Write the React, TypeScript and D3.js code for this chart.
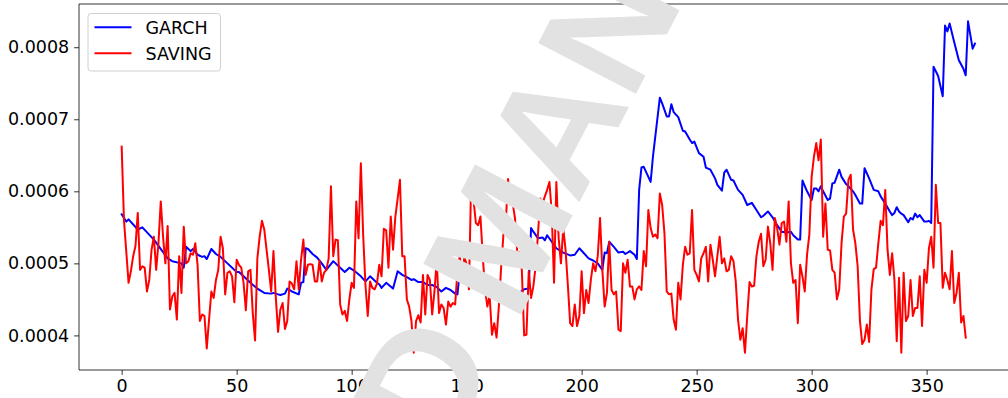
import { useEffect, useRef } from 'react';
import * as d3 from 'd3';

// series values are stored in units of 1e-6
const GARCH_T = [0, 2, 3, 7, 9, 14, 20, 22, 26, 27, 28, 30, 31, 33, 35, 36, 37, 39, 41, 43, 46, 50, 51, 53, 56, 59, 62, 65, 66, 68, 69, 71, 72, 74, 77, 78, 79, 80, 81, 83, 85, 87, 89, 92, 93, 95, 97, 99, 101, 104, 106, 108, 111, 112, 113, 115, 118, 120, 122, 124, 126, 127, 129, 131, 133, 135, 137, 139, 141, 143, 145, 146, 147, 148, 149, 152, 155, 159, 162, 169, 173, 175, 177, 178, 179, 181, 183, 184, 185, 187, 189, 192, 195, 197, 199, 201, 203, 205, 207, 209, 210, 211, 212, 214, 216, 218, 219, 221, 223, 224, 225, 226, 227, 230, 231, 234, 235, 237, 238, 239, 240, 242, 244, 245, 247, 248, 249, 251, 253, 254, 256, 258, 259, 261, 262, 263, 265, 266, 268, 270, 272, 274, 276, 278, 279, 281, 283, 285, 287, 289, 291, 292, 294, 295, 296, 298, 300, 301, 302, 303, 304, 305, 307, 308, 309, 310, 312, 313, 315, 316, 318, 319, 321, 322, 323, 325, 327, 329, 330, 332, 334, 335, 336, 337, 338, 339, 340, 342, 343, 344, 345, 346, 347, 349, 350, 351, 352, 353, 355, 357, 358, 359, 360, 362, 364, 366, 367, 368, 370, 371];
const GARCH_V = [568, 558, 561, 547, 550, 533, 507, 503, 500, 494, 523, 517, 520, 512, 509, 510, 506, 520, 513, 509, 500, 488, 488, 482, 473, 465, 459, 458, 459, 457, 456, 458, 465, 461, 457, 473, 474, 521, 520, 513, 508, 500, 491, 503, 500, 494, 488, 494, 490, 482, 475, 482, 473, 471, 466, 473, 465, 489, 484, 481, 477, 478, 474, 474, 470, 470, 467, 461, 466, 463, 458, 457, 489, 484, 480, 475, 470, 466, 461, 464, 459, 464, 465, 549, 544, 535, 536, 532, 539, 530, 521, 515, 511, 512, 521, 514, 507, 504, 500, 491, 515, 514, 530, 523, 515, 516, 513, 517, 512, 506, 602, 633, 634, 613, 648, 730, 722, 704, 704, 721, 710, 703, 684, 683, 672, 667, 669, 653, 648, 633, 630, 618, 609, 601, 626, 630, 616, 615, 602, 595, 581, 584, 574, 564, 566, 572, 564, 553, 544, 543, 544, 539, 533, 533, 615, 600, 588, 604, 604, 600, 607, 600, 588, 590, 611, 612, 630, 620, 610, 607, 600, 595, 583, 583, 632, 618, 602, 600, 593, 583, 572, 567, 570, 578, 572, 569, 567, 557, 563, 561, 569, 564, 567, 558, 558, 559, 556, 773, 760, 732, 830, 822, 833, 807, 782, 770, 761, 836, 798, 805];

const SAVING_T = [0, 1, 3, 4, 5, 6, 7, 8, 9, 10, 11, 12, 13, 14, 15, 16, 17, 18, 19, 20, 21, 22, 23, 24, 25, 26, 27, 28, 29, 30, 31, 32, 33, 34, 35, 36, 37, 38, 39, 40, 41, 42, 43, 44, 45, 46, 47, 48, 49, 50, 51, 52, 53, 54, 55, 56, 57, 58, 59, 60, 61, 62, 63, 64, 65, 66, 67, 68, 69, 70, 71, 72, 73, 74, 75, 76, 77, 78, 79, 80, 81, 82, 83, 84, 85, 86, 87, 88, 89, 90, 91, 92, 93, 94, 95, 96, 97, 98, 99, 100, 101, 102, 103, 104, 105, 106, 107, 108, 109, 110, 111, 112, 113, 114, 115, 116, 117, 118, 119, 120, 121, 122, 123, 124, 125, 126, 127, 128, 129, 130, 131, 132, 133, 134, 135, 136, 137, 138, 139, 140, 141, 142, 143, 144, 145, 146, 147, 148, 149, 150, 151, 152, 153, 154, 155, 156, 157, 158, 159, 160, 161, 162, 163, 164, 165, 166, 167, 168, 169, 170, 171, 172, 173, 174, 175, 176, 177, 178, 179, 180, 181, 182, 183, 184, 185, 186, 187, 188, 189, 190, 191, 192, 193, 194, 195, 196, 197, 198, 199, 200, 201, 202, 203, 204, 205, 206, 207, 208, 209, 210, 211, 212, 213, 214, 215, 216, 217, 218, 219, 220, 221, 222, 223, 224, 225, 226, 227, 228, 229, 230, 231, 232, 233, 234, 235, 236, 237, 238, 239, 240, 241, 242, 243, 244, 245, 246, 247, 248, 249, 250, 251, 252, 253, 254, 255, 256, 257, 258, 259, 260, 261, 262, 263, 264, 265, 266, 267, 268, 269, 270, 271, 272, 273, 274, 275, 276, 277, 278, 279, 280, 281, 282, 283, 284, 285, 286, 287, 288, 289, 290, 291, 292, 293, 294, 295, 296, 297, 298, 299, 300, 301, 302, 303, 304, 305, 306, 307, 308, 309, 310, 311, 312, 313, 314, 315, 316, 317, 318, 319, 320, 321, 322, 323, 324, 325, 326, 327, 328, 329, 330, 331, 332, 333, 334, 335, 336, 337, 338, 339, 340, 341, 342, 343, 344, 345, 346, 347, 348, 349, 350, 351, 352, 353, 354, 355, 356, 357, 358, 359, 360, 361, 362, 363, 364, 365, 366, 367];
const SAVING_V = [662, 560, 473, 489, 510, 524, 570, 491, 496, 494, 461, 477, 519, 537, 491, 528, 586, 537, 500, 552, 436, 454, 459, 422, 510, 459, 551, 500, 503, 514, 512, 528, 498, 420, 429, 427, 382, 422, 461, 452, 477, 491, 537, 521, 457, 487, 489, 482, 446, 505, 498, 494, 473, 435, 489, 491, 431, 393, 507, 537, 559, 547, 519, 491, 461, 517, 454, 405, 436, 445, 409, 420, 475, 472, 464, 503, 464, 505, 533, 484, 498, 499, 498, 475, 475, 504, 475, 487, 491, 507, 607, 510, 533, 532, 443, 429, 434, 420, 450, 473, 466, 586, 535, 639, 540, 470, 427, 475, 466, 464, 472, 498, 482, 548, 546, 494, 565, 519, 565, 590, 616, 510, 510, 450, 440, 420, 376, 420, 428, 418, 484, 429, 484, 477, 429, 461, 505, 431, 443, 438, 415, 447, 440, 445, 443, 489, 510, 475, 509, 498, 464, 621, 588, 556, 553, 565, 510, 464, 440, 455, 401, 417, 397, 440, 495, 540, 556, 617, 583, 584, 563, 515, 516, 490, 400, 401, 489, 452, 468, 496, 540, 590, 583, 593, 602, 613, 570, 473, 613, 535, 500, 549, 519, 470, 417, 413, 443, 413, 427, 489, 431, 463, 445, 477, 500, 489, 510, 563, 491, 440, 459, 530, 463, 457, 461, 408, 406, 500, 487, 505, 468, 468, 450, 464, 468, 463, 517, 496, 574, 549, 537, 540, 535, 597, 581, 542, 461, 457, 458, 422, 408, 473, 450, 498, 523, 512, 514, 574, 491, 484, 475, 507, 514, 523, 475, 526, 505, 482, 510, 537, 500, 507, 489, 491, 510, 503, 475, 422, 394, 410, 376, 427, 474, 468, 469, 510, 530, 541, 496, 505, 551, 528, 491, 563, 549, 526, 556, 558, 530, 586, 500, 473, 477, 417, 498, 482, 461, 512, 540, 620, 648, 667, 643, 672, 537, 583, 519, 518, 491, 487, 450, 464, 528, 565, 569, 616, 623, 547, 528, 496, 420, 388, 394, 415, 391, 464, 492, 494, 528, 559, 553, 602, 519, 484, 514, 477, 392, 480, 376, 487, 420, 427, 477, 427, 438, 438, 482, 413, 491, 473, 521, 537, 494, 609, 556, 556, 466, 487, 477, 464, 517, 445, 459, 487, 418, 427, 397];

const SERIES_NAMES = ['GARCH', 'SAVING'];
const SERIES_COLORS = ['#0000ff', '#ff0000'];
const X_TICKS = [0, 50, 100, 150, 200, 250, 300, 350];
const Y_TICKS = [0.0004, 0.0005, 0.0006, 0.0007, 0.0008];
const WATERMARK = ['ACCEPTED', 'MANUSCRIPT'];

const W = 1008;
const H = 398;
const FONT = 'DejaVu Sans, sans-serif';

export default function App() {
  const ref = useRef<SVGSVGElement>(null);

  useEffect(() => {
    if (!ref.current) return;
    const svg = d3.select(ref.current);
    svg.selectAll('*').remove();

    const left = 79, top = 4, bottom = 370, right = 1017.6;
    const x = d3.scaleLinear().domain([-18.55, 389.55]).range([left, right]);
    const y = d3.scaleLinear().domain([0.000352, 0.00086]).range([bottom, top]);

    svg.append('defs').append('clipPath').attr('id', 'plot-clip')
      .append('rect').attr('x', left).attr('y', top)
      .attr('width', right - left).attr('height', bottom - top);

    // lines
    const series = [
      GARCH_T.map((t, i) => [t, GARCH_V[i] * 1e-6] as [number, number]),
      SAVING_T.map((t, i) => [t, SAVING_V[i] * 1e-6] as [number, number]),
    ];
    const line = d3.line<[number, number]>().x(d => x(d[0])).y(d => y(d[1]));
    const plot = svg.append('g').attr('clip-path', 'url(#plot-clip)');
    series.forEach((s, i) => {
      plot.append('path')
        .attr('d', line(s)!)
        .attr('fill', 'none')
        .attr('stroke', SERIES_COLORS[i])
        .attr('stroke-width', 2)
        .attr('stroke-linejoin', 'round')
        .attr('stroke-linecap', 'square');
    });

    // spines
    const spine = svg.append('g').attr('stroke', '#000').attr('stroke-width', 0.8);
    spine.append('line').attr('x1', left).attr('x2', left).attr('y1', top).attr('y2', bottom);
    spine.append('line').attr('x1', left).attr('x2', W + 20).attr('y1', top).attr('y2', top);
    spine.append('line').attr('x1', left).attr('x2', W + 20).attr('y1', bottom).attr('y2', bottom);

    // axes
    const xAxis = d3.axisBottom(x).tickValues(X_TICKS).tickSize(4.9).tickPadding(4.9)
      .tickFormat(d => String(d));
    const yAxis = d3.axisLeft(y).tickValues(Y_TICKS).tickSize(4.9).tickPadding(4.9)
      .tickFormat(d => (d as number).toFixed(4));

    const gx = svg.append('g').attr('transform', `translate(0,${bottom})`).call(xAxis);
    const gy = svg.append('g').attr('transform', `translate(${left},0)`).call(yAxis);
    [gx, gy].forEach(g => {
      g.select('.domain').remove();
      g.selectAll('.tick line').attr('stroke', '#000').attr('stroke-width', 0.8);
      g.selectAll('.tick text').attr('fill', '#000')
        .style('font-family', FONT).style('font-size', '17.5px');
    });

    // legend
    const lg = svg.append('g');
    lg.append('rect')
      .attr('x', 88).attr('y', 13.5).attr('width', 132.5).attr('height', 57.5)
      .attr('rx', 3).attr('fill', '#fff').attr('fill-opacity', 0.8)
      .attr('stroke', '#d0d0d0').attr('stroke-width', 1);
    SERIES_NAMES.forEach((name, i) => {
      const cy = 27.3 + i * 26;
      lg.append('line').attr('x1', 94.5).attr('x2', 131.5).attr('y1', cy).attr('y2', cy)
        .attr('stroke', SERIES_COLORS[i]).attr('stroke-width', 2);
      lg.append('text').attr('x', 145.5).attr('y', cy + 6.4).text(name)
        .style('font-family', FONT).style('font-size', '17.5px').attr('fill', '#000');
    });

    // watermark over everything
    const wm = svg.append('g')
      .attr('transform', 'translate(516,324) rotate(-62.5)')
      .style('font-family', 'Liberation Sans, Arial, sans-serif')
      .style('font-size', '160px')
      .style('font-weight', 'bold')
      .attr('fill', '#e2e2e2');
    wm.append('text').attr('x', -36).attr('y', 0).attr('text-anchor', 'end').text(WATERMARK[0]);
    wm.append('text').attr('x', 0).attr('y', 0).attr('text-anchor', 'start').text(WATERMARK[1]);
  }, []);

  return (
    <svg
      ref={ref}
      width={W}
      height={H}
      style={{ position: 'absolute', left: 0, top: 0, background: '#fff' }}
    />
  );
}
